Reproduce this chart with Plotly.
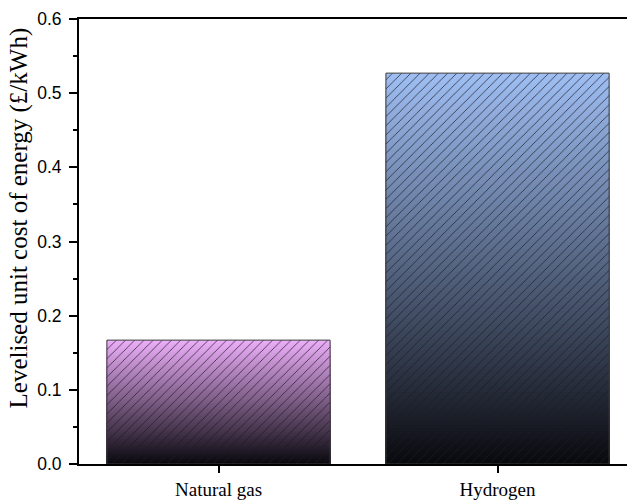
import plotly.graph_objects as go

# Data
categories = ["Natural gas", "Hydrogen"]
costs = [0.167, 0.527]          # levelised unit cost of energy (£/kWh)
top_colors = [(236, 174, 250), (158, 190, 243)]
bottom_color = (8, 8, 12)
y_title = "Levelised unit cost of energy (£/kWh)"

N_STEPS = 120


def blend(c_top, c_bot, f):
    """Linear blend: f=1 gives the top colour, f=0 the bottom colour."""
    r = round(c_bot[0] + (c_top[0] - c_bot[0]) * f)
    g = round(c_bot[1] + (c_top[1] - c_bot[1]) * f)
    b = round(c_bot[2] + (c_top[2] - c_bot[2]) * f)
    return f"rgb({r},{g},{b})"


fig = go.Figure()

# Vertical gradient: nested bars, tallest first, each one a little shorter
for k in range(N_STEPS):
    frac = (N_STEPS - k) / N_STEPS
    fig.add_trace(go.Bar(
        x=categories,
        y=[v * frac for v in costs],
        width=0.8,
        marker=dict(color=[blend(c, bottom_color, frac) for c in top_colors],
                    line=dict(width=0)),
        showlegend=False,
        hoverinfo="skip",
    ))

# Hatch overlay and outline
fig.add_trace(go.Bar(
    x=categories,
    y=costs,
    width=0.8,
    marker=dict(
        color="rgba(0,0,0,0)",
        pattern=dict(shape="/", fgcolor="#1c1a24", fgopacity=0.9,
                     size=6.5, solidity=0.12, fillmode="overlay"),
        line=dict(color="#3a3a3a", width=1),
    ),
    showlegend=False,
))

fig.update_layout(
    width=627, height=500,
    margin=dict(l=79, r=0, t=19, b=33),
    barmode="overlay",
    plot_bgcolor="white",
    paper_bgcolor="white",
    font=dict(family="Liberation Serif", color="black"),
    annotations=[dict(
        text=y_title, textangle=-90,
        xref="paper", yref="paper", x=-0.1095, y=0.554,
        xanchor="center", yanchor="middle", showarrow=False,
        font=dict(family="Liberation Serif", size=25, color="black"),
    )],
)

fig.update_xaxes(
    range=[-0.5, 1.464],
    showline=True, linecolor="black", linewidth=2, mirror=True,
    ticks="outside", ticklen=7, tickwidth=1.5, tickcolor="black",
    tickfont=dict(family="Liberation Serif", size=19),
    showgrid=False, zeroline=False,
)

fig.update_yaxes(
    range=[0, 0.6], dtick=0.1, tickformat=".1f",
    showline=True, linecolor="black", linewidth=2,
    ticks="outside", ticklen=8, tickwidth=1.5, tickcolor="black",
    minor=dict(dtick=0.05, ticks="outside", ticklen=4, tickwidth=1.5,
               tickcolor="black"),
    tickfont=dict(family="Liberation Sans", size=17.5),
    ticklabelstandoff=4,
    showgrid=False, zeroline=False,
)

fig.write_html("out.html")
